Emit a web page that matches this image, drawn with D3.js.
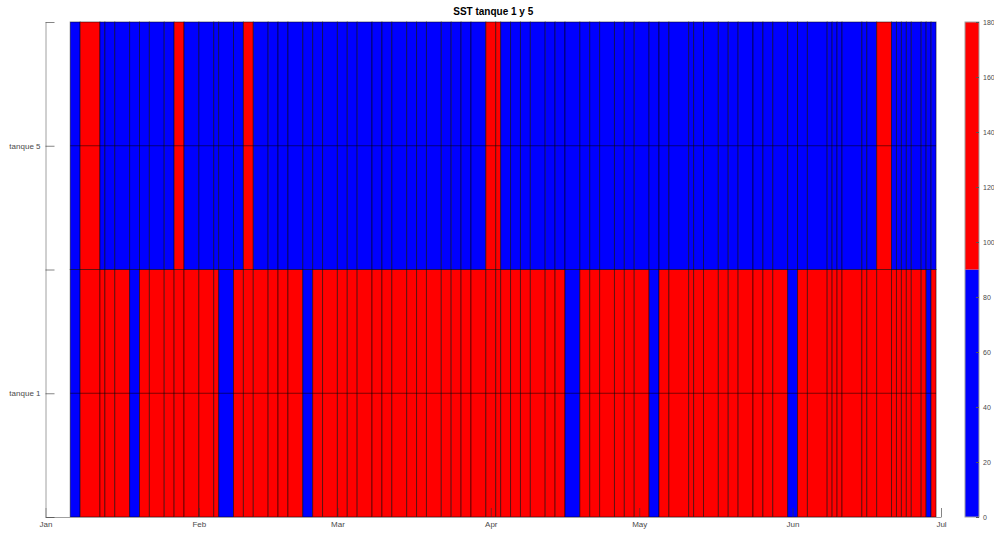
<!DOCTYPE html>
<html>
<head>
<meta charset="utf-8">
<script src="https://cdn.jsdelivr.net/npm/d3@7"></script>
<style>
  body { margin: 0; background: #fff; }
  svg { font-family: "Liberation Sans", Arial, sans-serif; }
</style>
</head>
<body>
<svg id="chart" width="994" height="536"></svg>
<script>
// sampling dates = cell edges of the pcolor grid (82 edges -> 81 cells)
const sampleDates = [
  "2015-01-06", "2015-01-08", "2015-01-12", "2015-01-13", "2015-01-15", "2015-01-18",
  "2015-01-20", "2015-01-22", "2015-01-25", "2015-01-27", "2015-01-29", "2015-02-01",
  "2015-02-04", "2015-02-05", "2015-02-08", "2015-02-10", "2015-02-12", "2015-02-15",
  "2015-02-17", "2015-02-19", "2015-02-22", "2015-02-24", "2015-02-26", "2015-03-01",
  "2015-03-03", "2015-03-05", "2015-03-08", "2015-03-10", "2015-03-12", "2015-03-15",
  "2015-03-17", "2015-03-19", "2015-03-22", "2015-03-24", "2015-03-26", "2015-03-28",
  "2015-03-31", "2015-04-02", "2015-04-03", "2015-04-05", "2015-04-07", "2015-04-09",
  "2015-04-12", "2015-04-14", "2015-04-16", "2015-04-19", "2015-04-21", "2015-04-23",
  "2015-04-26", "2015-04-28", "2015-04-30", "2015-05-03", "2015-05-05", "2015-05-07",
  "2015-05-11", "2015-05-12", "2015-05-14", "2015-05-17", "2015-05-19", "2015-05-21",
  "2015-05-24", "2015-05-26", "2015-05-28", "2015-05-31", "2015-06-02", "2015-06-04",
  "2015-06-08", "2015-06-09", "2015-06-10", "2015-06-11", "2015-06-15", "2015-06-16",
  "2015-06-18", "2015-06-21", "2015-06-22", "2015-06-23", "2015-06-24", "2015-06-25",
  "2015-06-27", "2015-06-28", "2015-06-29", "2015-06-30"
];

const tanque1 = [
   50, 130, 130, 130, 130,  50, 130, 130, 130, 130,
  130, 130, 130,  50, 130, 130, 130, 130, 130, 130,
   50, 130, 130, 130, 130, 130, 130, 130, 130, 130,
  130, 130, 130, 130, 130, 130, 130, 130, 130, 130,
  130, 130, 130, 130,  50, 130, 130, 130, 130, 130,
  130,  50, 130, 130, 130, 130, 130, 130, 130, 130,
  130, 130, 130,  50, 130, 130, 130, 130, 130, 130,
  130, 130, 130, 130, 130, 130, 130, 130, 130,  50,
  130
];
const tanque5 = [
   50, 130,  50,  50,  50,  50,  50,  50,  50, 130,
   50,  50,  50,  50,  50, 130,  50,  50,  50,  50,
   50,  50,  50,  50,  50,  50,  50,  50,  50,  50,
   50,  50,  50,  50,  50,  50, 130, 130,  50,  50,
   50,  50,  50,  50,  50,  50,  50,  50,  50,  50,
   50,  50,  50,  50,  50,  50,  50,  50,  50,  50,
   50,  50,  50,  50,  50,  50,  50,  50,  50,  50,
   50,  50, 130,  50,  50,  50,  50,  50,  50,  50,
   50
];

const tankNames = ["tanque 1", "tanque 5"];
const timeRange = ["2015-01-01", "2015-07-01"];
const colorLimits = [0, 180];
const colorTicks = [0, 20, 40, 60, 80, 100, 120, 140, 160, 180];
const colormap = ["#0000ff", "#ff0000"];

let svg = d3.select("#chart");
let parse = d3.utcParse("%Y-%m-%d");
let edges = sampleDates.map(parse);
let tickGrey = "#4a4a4a";
let lineGrey = "#a0a0a0";

// scales
let x = d3.scaleUtc().domain(timeRange.map(parse)).range([45.5, 941]);
// each tank spans two grid units; labels sit on the middle line
let y = d3.scaleLinear().domain([0, 2 * tankNames.length]).range([517, 22]);
let color = d3.scaleQuantize().domain(colorLimits).range(colormap);

// cells
let rows = [tanque1, tanque5];
rows.forEach(function(values, r) {
    svg.append("g")
        .selectAll("rect")
        .data(values)
        .enter()
            .append("rect")
            .attr("x", (d, i) => x(edges[i]))
            .attr("width", (d, i) => x(edges[i + 1]) - x(edges[i]))
            .attr("y", y(2 * r + 2))
            .attr("height", y(2 * r) - y(2 * r + 2))
            .attr("fill", d => color(d))
            .attr("stroke", "#000")
            .attr("stroke-opacity", 0.5)
            .attr("stroke-width", 1);
});

// inner mesh lines through each tank
svg.append("g")
    .selectAll("line")
    .data(tankNames.map((n, i) => 2 * i + 1))
    .enter()
        .append("line")
        .attr("x1", x(edges[0]))
        .attr("x2", x(edges[edges.length - 1]))
        .attr("y1", d => y(d))
        .attr("y2", d => y(d))
        .attr("stroke", "#000")
        .attr("stroke-opacity", 0.5);

// axes
let xAxis = svg.append("g")
    .attr("transform", `translate(0,${y(0)})`)
    .call(d3.axisBottom(x)
        .ticks(d3.utcMonth.every(1))
        .tickFormat(d3.utcFormat("%b"))
        .tickSizeInner(-9)
        .tickSizeOuter(0)
        .tickPadding(4));
let yAxis = svg.append("g")
    .attr("transform", `translate(${x.range()[0]},0)`)
    .call(d3.axisLeft(y)
        .tickValues(d3.range(0, 2 * tankNames.length + 1))
        .tickFormat(d => d % 2 === 1 ? tankNames[(d - 1) / 2] : "")
        .tickSizeInner(-9)
        .tickSizeOuter(0)
        .tickPadding(5));
[xAxis, yAxis].forEach(function(a) {
    a.selectAll("path").attr("stroke", lineGrey);
    a.selectAll("line").attr("stroke", "#333").attr("stroke-opacity", 0.6);
    a.selectAll("text").attr("fill", tickGrey).attr("font-size", 8);
});

// year under the last tick (cut by the bottom edge, as in the original)
svg.append("text")
    .text("2015")
    .attr("x", x.range()[1] - 6)
    .attr("y", 543)
    .attr("text-anchor", "middle")
    .attr("font-size", 8)
    .attr("fill", tickGrey);

// title
svg.append("text")
    .text("SST tanque 1 y 5")
    .attr("x", (x.range()[0] + x.range()[1]) / 2)
    .attr("y", 15)
    .attr("text-anchor", "middle")
    .attr("font-size", 10)
    .attr("font-weight", "bold")
    .attr("fill", "#000");

// colorbar
let cbLeft = 965, cbWidth = 14;
let cb = d3.scaleLinear().domain(colorLimits).range([517, 22]);
let colorbar = svg.append("g");
colorbar.selectAll("rect")
    .data(colormap)
    .enter()
        .append("rect")
        .attr("x", cbLeft)
        .attr("width", cbWidth)
        .attr("y", c => cb(color.invertExtent(c)[1]))
        .attr("height", c => cb(color.invertExtent(c)[0]) - cb(color.invertExtent(c)[1]))
        .attr("fill", c => c);
colorbar.append("rect")
    .attr("x", cbLeft)
    .attr("y", cb.range()[1])
    .attr("width", cbWidth)
    .attr("height", cb.range()[0] - cb.range()[1])
    .attr("fill", "none")
    .attr("stroke", lineGrey);
let cbAxis = colorbar.append("g")
    .attr("transform", `translate(${cbLeft + cbWidth},0)`)
    .call(d3.axisRight(cb)
        .tickValues(colorTicks)
        .tickSizeInner(-3)
        .tickSizeOuter(0)
        .tickPadding(4));
cbAxis.select(".domain").remove();
cbAxis.selectAll("line").attr("stroke", "#555");
cbAxis.selectAll("text").attr("fill", tickGrey).attr("font-size", 7);
</script>
</body>
</html>
